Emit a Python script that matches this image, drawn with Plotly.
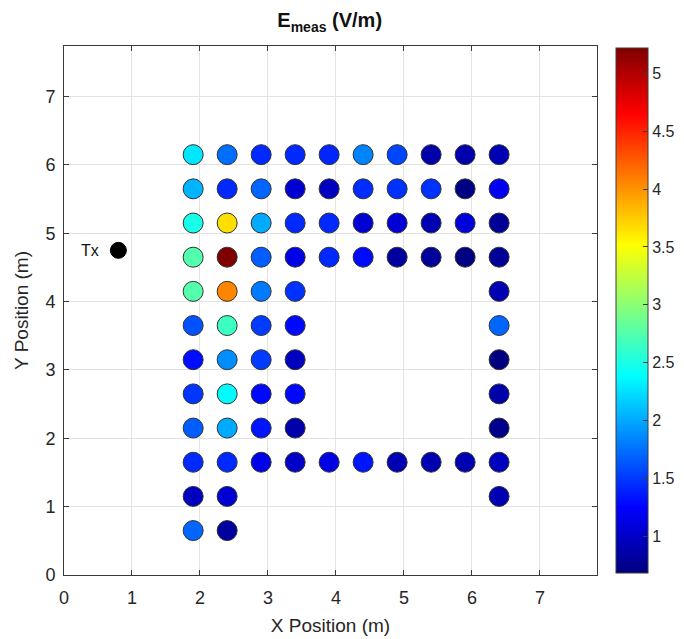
import plotly.graph_objects as go

# Measurement grid (m)
x_pos = [
    1.9, 2.4, 2.9, 3.4, 3.9, 4.4, 4.9, 5.4, 5.9, 6.4,   # y = 6.15
    1.9, 2.4, 2.9, 3.4, 3.9, 4.4, 4.9, 5.4, 5.9, 6.4,   # y = 5.65
    1.9, 2.4, 2.9, 3.4, 3.9, 4.4, 4.9, 5.4, 5.9, 6.4,   # y = 5.15
    1.9, 2.4, 2.9, 3.4, 3.9, 4.4, 4.9, 5.4, 5.9, 6.4,   # y = 4.65
    1.9, 2.4, 2.9, 3.4, 6.4,                            # y = 4.15
    1.9, 2.4, 2.9, 3.4, 6.4,                            # y = 3.65
    1.9, 2.4, 2.9, 3.4, 6.4,                            # y = 3.15
    1.9, 2.4, 2.9, 3.4, 6.4,                            # y = 2.65
    1.9, 2.4, 2.9, 3.4, 6.4,                            # y = 2.15
    1.9, 2.4, 2.9, 3.4, 3.9, 4.4, 4.9, 5.4, 5.9, 6.4,   # y = 1.65
    1.9, 2.4, 6.4,                                      # y = 1.15
    1.9, 2.4,                                           # y = 0.65
]
y_pos = (
    [6.15] * 10 + [5.65] * 10 + [5.15] * 10 + [4.65] * 10
    + [4.15] * 5 + [3.65] * 5 + [3.15] * 5 + [2.65] * 5 + [2.15] * 5
    + [1.65] * 10 + [1.15] * 3 + [0.65] * 2
)

# Measured field strength (V/m)
e_meas = [
    2.28, 1.74, 1.43, 1.43, 1.41, 1.83, 1.56, 0.87, 0.88, 0.91,
    2.05, 1.43, 1.70, 1.05, 0.96, 1.45, 1.47, 1.47, 0.69, 1.19,
    2.48, 3.66, 2.01, 1.43, 1.43, 1.05, 1.06, 0.91, 1.08, 0.78,
    2.75, 5.22, 1.66, 1.14, 1.43, 1.29, 0.82, 0.80, 0.69, 0.78,
    2.75, 4.06, 1.79, 1.47, 0.91,
    1.61, 2.65, 1.51, 1.28, 1.70,
    1.30, 1.88, 1.51, 0.96, 0.68,
    1.49, 2.37, 1.28, 1.28, 0.87,
    1.66, 2.01, 1.34, 0.87, 0.73,
    1.43, 1.43, 1.15, 1.00, 1.14, 1.34, 0.91, 0.91, 0.91, 0.96,
    0.96, 1.05, 0.91,
    1.70, 0.82,
]

# Transmitter location
tx_x = [0.8]
tx_y = [4.75]
tx_label = ["Tx"]

c_min, c_max = 0.68, 5.22

jet = [
    [0.0, "rgb(0,0,128)"],
    [0.125, "rgb(0,0,255)"],
    [0.375, "rgb(0,255,255)"],
    [0.625, "rgb(255,255,0)"],
    [0.875, "rgb(255,0,0)"],
    [1.0, "rgb(128,0,0)"],
]

font_family = "Liberation Sans, Arial, sans-serif"
axis_color = "#3a3a3a"
text_color = "#262626"

fig = go.Figure()

fig.add_trace(go.Scatter(
    x=x_pos, y=y_pos, mode="markers",
    marker=dict(
        size=20, color=e_meas, colorscale=jet, cmin=c_min, cmax=c_max,
        line=dict(color="#333333", width=1),
        colorbar=dict(
            thickness=32, len=525, lenmode="pixels",
            x=1.0356, xanchor="left", y=0.5, yanchor="middle",
            xpad=0, ypad=0,
            outlinecolor=axis_color, outlinewidth=1,
            ticks="inside", ticklen=5, tickcolor=axis_color,
            tickvals=[1, 1.5, 2, 2.5, 3, 3.5, 4, 4.5, 5],
            ticktext=["1", "1.5", "2", "2.5", "3", "3.5", "4", "4.5", "5"],
            tickfont=dict(family=font_family, size=16, color=text_color),
        ),
    ),
    showlegend=False, hoverinfo="x+y+text", text=[f"{v:.2f}" for v in e_meas],
))

# Transmitter marker
fig.add_trace(go.Scatter(
    x=tx_x, y=tx_y, mode="markers",
    marker=dict(size=16, color="black", line=dict(color="black", width=1)),
    showlegend=False, hoverinfo="text", text=tx_label,
))
for tx, ty, lbl in zip(tx_x, tx_y, tx_label):
    fig.add_annotation(
        x=tx, y=ty, text=lbl, showarrow=False,
        xanchor="right", yanchor="middle", xshift=-17,
        font=dict(family=font_family, size=16, color="#111111"),
    )

axis_common = dict(
    showgrid=True, gridcolor="#e3e3e3", gridwidth=1,
    zeroline=False, showline=True, linecolor=axis_color, linewidth=1,
    mirror="ticks", ticks="inside", ticklen=5, tickcolor=axis_color,
    tickfont=dict(family=font_family, size=18, color=text_color),
    dtick=1, tick0=0,
)

fig.update_layout(
    width=684, height=639,
    margin=dict(l=64, r=87, t=46, b=64, autoexpand=False),
    paper_bgcolor="white", plot_bgcolor="white",
    title=dict(
        text="<b>E<sub>meas</sub> (V/m)</b>",
        x=0.482, xanchor="center", y=0.968, yanchor="middle",
        font=dict(family=font_family, size=20, color="#111111"),
    ),
    xaxis=dict(
        range=[0, 7.84], ticklabelstandoff=6,
        title=dict(text="X Position (m)", standoff=12,
                   font=dict(family=font_family, size=19, color=text_color)),
        **axis_common,
    ),
    yaxis=dict(
        range=[0, 7.74], ticklabelstandoff=4,
        title=dict(text="Y Position (m)", standoff=11,
                   font=dict(family=font_family, size=19, color=text_color)),
        **axis_common,
    ),
)

fig.write_html("out.html")
